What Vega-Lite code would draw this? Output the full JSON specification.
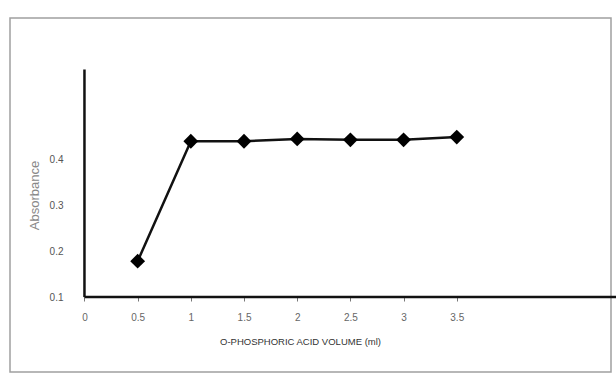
{
  "$schema": "https://vega.github.io/schema/vega-lite/v6.json",
  "width": 601,
  "height": 354,
  "autosize": "none",
  "padding": {"left": 10, "top": 18, "right": 5, "bottom": 7},
  "background": "white",
  "config": {
    "view": {"stroke": "#a0a0a0", "strokeWidth": 1.5},
    "font": "Liberation Sans"
  },
  "datasets": {
    "absorbance": [
      {"volume": 0.5, "absorbance": 0.178},
      {"volume": 1.0, "absorbance": 0.439},
      {"volume": 1.5, "absorbance": 0.439},
      {"volume": 2.0, "absorbance": 0.444},
      {"volume": 2.5, "absorbance": 0.442},
      {"volume": 3.0, "absorbance": 0.442},
      {"volume": 3.5, "absorbance": 0.448}
    ],
    "axisLines": [
      {"x": 0, "x2": 0, "y": 0.1, "y2": 0.595},
      {"x": 0, "x2": 5, "y": 0.1, "y2": 0.1}
    ]
  },
  "layer": [
    {
      "data": {"name": "axisLines"},
      "mark": {"type": "rule", "color": "#111", "strokeWidth": 2.5},
      "encoding": {
        "x": {"field": "x", "type": "quantitative", "scale": {"domain": [-0.7, 4.95], "nice": false, "zero": false},
          "axis": {
            "orient": "bottom", "offset": -75, "domain": false, "grid": false,
            "values": [0, 0.5, 1, 1.5, 2, 2.5, 3, 3.5], "format": "~g",
            "ticks": true, "tickSize": 4, "tickColor": "#777", "tickWidth": 1,
            "labelFontSize": 10, "labelColor": "#666", "labelPadding": 11,
            "title": "O-PHOSPHORIC ACID VOLUME (ml)",
            "titleFontSize": 9.5, "titleFontWeight": "normal", "titleColor": "#333",
            "titleX": 290, "titleY": 44, "titleBaseline": "middle", "titleAnchor": null, "titleAlign": "center"
          }},
        "x2": {"field": "x2"},
        "y": {"field": "y", "type": "quantitative", "scale": {"domain": [-0.063, 0.707], "nice": false, "zero": false},
          "axis": {
            "orient": "left", "offset": -74, "domain": false, "grid": false, "ticks": false,
            "values": [0.1, 0.2, 0.3, 0.4],
            "labelFontSize": 10, "labelColor": "#555", "labelPadding": 21,
            "title": "Absorbance",
            "titleFontSize": 13, "titleFontWeight": "normal", "titleColor": "#888", "titlePadding": 8
          }},
        "y2": {"field": "y2"}
      }
    },
    {
      "data": {"name": "absorbance"},
      "mark": {"type": "line", "color": "#111", "strokeWidth": 2.5},
      "encoding": {
        "x": {"field": "volume", "type": "quantitative"},
        "y": {"field": "absorbance", "type": "quantitative"}
      }
    },
    {
      "data": {"name": "absorbance"},
      "mark": {"type": "point", "shape": "diamond", "filled": true, "color": "#000", "opacity": 1, "size": 220},
      "encoding": {
        "x": {"field": "volume", "type": "quantitative"},
        "y": {"field": "absorbance", "type": "quantitative"}
      }
    }
  ]
}
